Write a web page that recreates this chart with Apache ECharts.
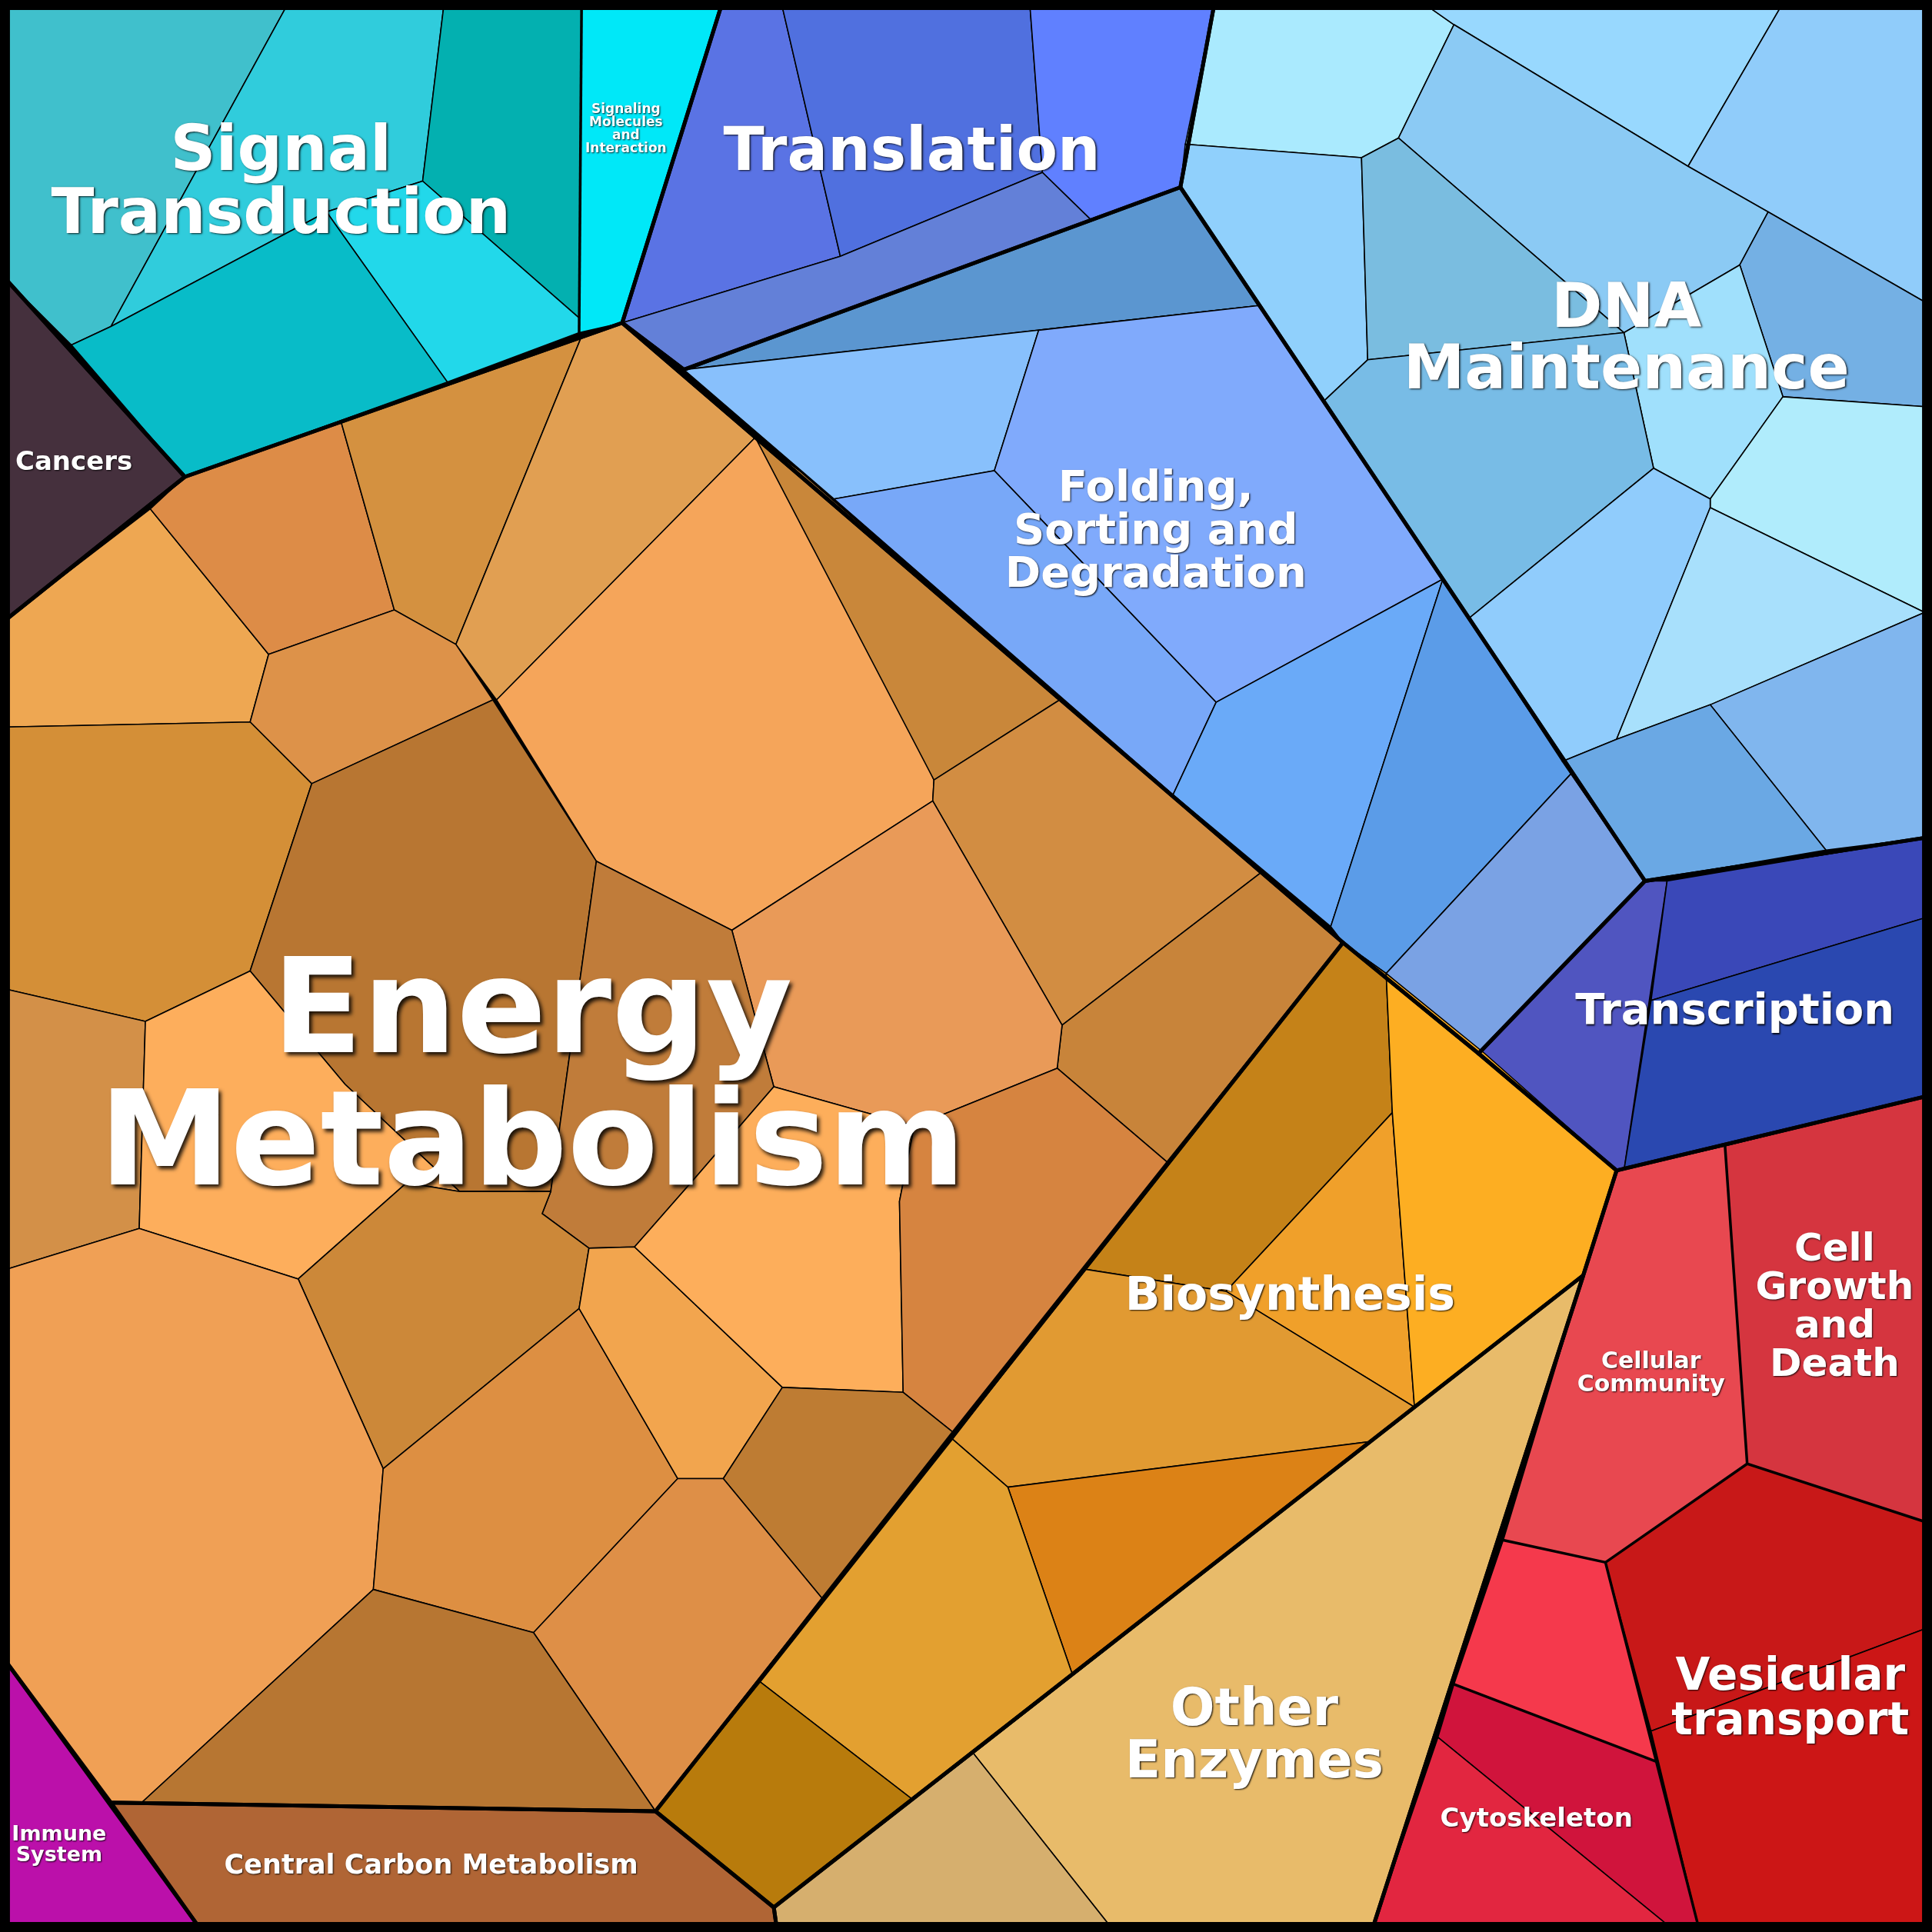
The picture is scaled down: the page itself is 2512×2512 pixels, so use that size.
<!DOCTYPE html>
<html><head><meta charset="utf-8">
<script src="https://cdn.jsdelivr.net/npm/echarts@6/dist/echarts.min.js"></script>
<style>html,body{margin:0;padding:0;background:#000}#c{width:2512px;height:2512px}</style>
</head><body><div id="c"></div>
<script>
// Voronoi treemap cells: [group, color, polygon vertices in chart units (0..1568)]
const cells = [
 ['Energy','#eea752',[[6,502],[122,413],[218,531],[203,586],[6,590]]],
 ['Energy','#dd8c47',[[122,413],[150,387],[277,343],[320,495],[218,531]]],
 ['Energy','#d49140',[[277,343],[472,273],[370,523],[320,495]]],
 ['Energy','#e19f52',[[472,273],[505,262],[613,355],[403,568],[370,523]]],
 ['Energy','#dd9249',[[218,531],[320,495],[370,523],[400,568],[253,636],[203,586]]],
 ['Energy','#d48f37',[[6,590],[203,586],[253,636],[203,788],[118,829],[6,803]]],
 ['Energy','#f5a55a',[[403,568],[613,355],[650,383],[758,633],[757,650],[594,755],[484,699]]],
 ['Energy','#c9873a',[[613,355],[650,383],[860,568],[758,633]]],
 ['Energy','#d28d42',[[758,633],[860,568],[1025,707],[862,832],[757,650]]],
 ['Energy','#c8843a',[[1025,707],[1090,765],[947,943],[858,867],[862,832]]],
 ['Energy','#e99a58',[[594,755],[757,650],[862,832],[858,867],[742,914],[628,882]]],
 ['Energy','#b87632',[[253,636],[400,568],[484,699],[447,967],[373,967],[280,880],[203,788]]],
 ['Energy','#c07c3a',[[484,699],[594,755],[628,882],[565,955],[515,1012],[478,1013],[440,985],[447,967]]],
 ['Energy','#d39048',[[6,803],[118,829],[113,997],[6,1030]]],
 ['Energy','#fdae5c',[[118,829],[203,788],[280,880],[373,967],[330,960],[242,1038],[113,997]]],
 ['Energy','#cc8839',[[242,1038],[330,960],[373,967],[447,967],[440,985],[478,1013],[470,1062],[311,1192]]],
 ['Energy','#f0a055',[[6,1030],[113,997],[242,1038],[311,1192],[303,1290],[115,1463],[90,1463],[6,1350]]],
 ['Energy','#dd8f42',[[311,1192],[470,1062],[550,1200],[433,1325],[303,1290]]],
 ['Energy','#f2a54e',[[478,1013],[515,1012],[635,1126],[587,1200],[550,1200],[470,1062]]],
 ['Energy','#fdae5b',[[515,1012],[565,955],[628,882],[742,914],[730,975],[733,1130],[635,1126]]],
 ['Energy','#d68440',[[742,914],[858,867],[947,943],[773,1162],[733,1130],[730,975]]],
 ['Energy','#be7c33',[[635,1126],[733,1130],[773,1162],[667,1297],[587,1200]]],
 ['Energy','#de8f47',[[550,1200],[587,1200],[667,1297],[532,1470],[433,1325]]],
 ['Energy','#b77632',[[303,1290],[433,1325],[532,1470],[115,1463]]],
 ['Central','#b06535',[[90,1463],[532,1470],[628,1548],[630,1562],[160,1562]]],
 ['Immune','#bb10aa',[[6,1350],[160,1562],[6,1562]]],
 ['Cancers','#45303d',[[6,228],[150,387],[6,502]]],
 ['Signal','#40c0cc',[[6,6],[232,6],[90,265],[58,280],[6,228]]],
 ['Signal','#30ccdc',[[232,6],[360,6],[343,147],[265,172],[90,265]]],
 ['Signal','#03b0b0',[[360,6],[472,6],[470,258],[343,147]]],
 ['Signal','#22d8ea',[[343,147],[470,258],[470,270],[363,310],[265,172]]],
 ['Signal','#08bcc8',[[58,280],[90,265],[265,172],[363,310],[150,387]]],
 ['SigMol','#00e8f8',[[472,6],[585,6],[505,262],[470,270]]],
 ['Translation','#5a73e4',[[585,6],[635,6],[682,208],[505,262]]],
 ['Translation','#5070df',[[635,6],[836,6],[846,140],[682,208]]],
 ['Translation','#6080ff',[[836,6],[985,6],[958,152],[885,178],[846,140]]],
 ['Translation','#6380d8',[[505,262],[682,208],[846,140],[885,178],[555,300]]],
 ['Folding','#5b96d0',[[555,300],[958,152],[1022,248]]],
 ['Folding','#88c0fc',[[555,300],[1022,248],[843,268],[807,382],[677,405]]],
 ['Folding','#80aafc',[[843,268],[1022,248],[1171,470],[987,570],[807,382]]],
 ['Folding','#78a8f8',[[677,405],[807,382],[987,570],[952,645]]],
 ['Folding','#6aaaf8',[[952,645],[987,570],[1171,470],[1080,752]]],
 ['Folding','#5b9ce8',[[1171,470],[1275,628],[1125,790],[1090,765],[1080,752]]],
 ['Folding','#7aa2e4',[[1275,628],[1335,715],[1200,855],[1125,790]]],
 ['DNA','#aaeafe',[[985,6],[1160,6],[1180,20],[1135,112],[1105,128],[962,117]]],
 ['DNA','#90d0fc',[[962,117],[1105,128],[1110,292],[1075,325],[958,152]]],
 ['DNA','#98d8fe',[[1160,6],[1445,6],[1370,135],[1180,20]]],
 ['DNA','#90ccfa',[[1445,6],[1562,6],[1562,245],[1435,172],[1370,135]]],
 ['DNA','#8bcaf4',[[1180,20],[1370,135],[1435,172],[1412,215],[1318,270],[1135,112]]],
 ['DNA','#7abde0',[[1105,128],[1135,112],[1318,270],[1110,292]]],
 ['DNA','#74b0e4',[[1435,172],[1562,245],[1562,330],[1447,322],[1412,215]]],
 ['DNA','#a0e0fc',[[1412,215],[1447,322],[1388,405],[1342,380],[1318,270]]],
 ['DNA','#78bce6',[[1110,292],[1318,270],[1342,380],[1192,502],[1075,325]]],
 ['DNA','#b0ecfc',[[1447,322],[1562,330],[1562,497],[1388,412],[1388,405]]],
 ['DNA','#90ccfc',[[1342,380],[1388,405],[1388,412],[1312,600],[1268,618],[1192,502]]],
 ['DNA','#a8e0fc',[[1388,412],[1562,497],[1388,572],[1312,600]]],
 ['DNA','#80b6ee',[[1388,572],[1562,497],[1562,680],[1482,690]]],
 ['DNA','#6aa8e4',[[1268,618],[1312,600],[1388,572],[1482,690],[1335,715]]],
 ['Transcription','#5055c0',[[1200,855],[1335,715],[1353,715],[1318,950],[1312,950]]],
 ['Transcription','#3a48b8',[[1353,715],[1562,680],[1562,745],[1340,812]]],
 ['Transcription','#2a48b0',[[1340,812],[1562,745],[1562,890],[1318,950]]],
 ['Biosynthesis','#c58218',[[1090,765],[1125,790],[1130,903],[995,1048],[880,1030]]],
 ['Biosynthesis','#f0a02a',[[1130,903],[1148,1142],[995,1048]]],
 ['Biosynthesis','#fdae22',[[1125,790],[1205,855],[1312,950],[1285,1035],[1148,1142],[1130,903]]],
 ['Biosynthesis','#e19a32',[[880,1030],[995,1048],[1148,1142],[1112,1170],[818,1207],[773,1168]]],
 ['Biosynthesis','#dc8216',[[818,1207],[1112,1170],[870,1358]]],
 ['Biosynthesis','#e3a030',[[773,1168],[818,1207],[870,1358],[740,1460],[617,1365]]],
 ['Biosynthesis','#b87b0c',[[617,1365],[740,1460],[628,1548],[532,1470]]],
 ['Other','#e8bb6a',[[1285,1035],[1115,1562],[900,1562],[790,1423]]],
 ['Other','#d6af6e',[[790,1423],[900,1562],[630,1562],[628,1548]]],
 ['Community','#e84850',[[1312,950],[1400,930],[1418,1188],[1303,1268],[1220,1250],[1285,1035]]],
 ['Growth','#d5353f',[[1400,930],[1562,890],[1562,1235],[1418,1188]]],
 ['Vesicular','#c81818',[[1418,1188],[1562,1235],[1562,1322],[1340,1405],[1303,1268]]],
 ['Vesicular','#cc1616',[[1340,1405],[1562,1322],[1562,1562],[1378,1562]]],
 ['Cyto','#f5394c',[[1220,1250],[1303,1268],[1345,1430],[1180,1367]]],
 ['Cyto','#d0143c',[[1180,1367],[1345,1430],[1378,1562],[1353,1562],[1167,1410]]],
 ['Cyto','#e22640',[[1167,1410],[1353,1562],[1115,1562]]]
];
// Group outlines (thick borders)
const groups = [
 [[6,502],[150,387],[505,262],[1090,765],[532,1470],[90,1463],[6,1350]],
 [[6,228],[150,387],[6,502]],
 [[6,6],[585,6],[505,262],[150,387],[6,228]],
 [[585,6],[985,6],[958,152],[555,300],[505,262]],
 [[505,262],[555,300],[958,152],[1335,715],[1200,855],[1090,765]],
 [[985,6],[1562,6],[1562,680],[1335,715],[958,152]],
 [[1200,855],[1335,715],[1562,680],[1562,890],[1312,950]],
 [[1090,765],[1200,855],[1312,950],[1285,1035],[628,1548],[532,1470]],
 [[1285,1035],[1115,1562],[630,1562],[628,1548]],
 [[1312,950],[1562,890],[1562,1562],[1115,1562],[1285,1035]],
 [[6,1350],[160,1562],[6,1562]],
 [[90,1463],[532,1470],[628,1548],[630,1562],[160,1562]]
];
const subBorders = [
 [[1400,930],[1418,1188],[1562,1235]],
 [[1418,1188],[1303,1268],[1378,1562]],
 [[1303,1268],[1220,1250]],
 [[1180,1367],[1345,1430]],
 [[472,6],[470,270]]
];
const labels = ['Signal\nTransduction','Signaling\nMolecules\nand\nInteraction','Translation','Cancers','DNA\nMaintenance','Folding,\nSorting and\nDegradation','Energy\nMetabolism','Transcription','Biosynthesis','Cellular\nCommunity','Cell\nGrowth\nand\nDeath','Other\nEnzymes','Vesicular\ntransport','Cytoskeleton','Immune\nSystem','Central Carbon Metabolism'];
const labelPos = [[228,150],[508,105],[740,125],[60,376],[1320,277],[938,432],[432,880],[1408,822],[1047,1053],[1340,1115],[1489,1062],[1018,1410],[1453,1380],[1247,1477],[48,1498],[350,1515]];
const labelSize = [82,17,78,34,80,56,172,56,60,30,50,68,58,34,27,35];

const chart = echarts.init(document.getElementById('c'));
function polyItem(pts, api){ return pts.map(p=>api.coord(p)); }
chart.setOption({
 backgroundColor:'#000',
 animation:false,
 grid:{left:0,right:0,top:0,bottom:0},
 xAxis:{type:'value',min:0,max:1568,show:false},
 yAxis:{type:'value',min:0,max:1568,inverse:true,show:false},
 series:[
  {type:'custom',data:cells.map((c,i)=>[i]),renderItem:(p,api)=>{
    const c=cells[p.dataIndex];
    return {type:'polygon',shape:{points:polyItem(c[2],api)},style:{fill:c[1],stroke:'#000',lineWidth:1.6}};
  }},
  {type:'custom',data:subBorders.map((c,i)=>[i]),renderItem:(p,api)=>({type:'polyline',shape:{points:polyItem(subBorders[p.dataIndex],api)},style:{fill:null,stroke:'#000',lineWidth:3.5}})},
  {type:'custom',data:groups.map((c,i)=>[i]),renderItem:(p,api)=>({type:'polygon',shape:{points:polyItem(groups[p.dataIndex],api)},style:{fill:null,stroke:'#000',lineWidth:5,lineJoin:'round'}})},
  {type:'custom',data:[[0]],renderItem:(p,api)=>({type:'polygon',shape:{points:polyItem([[4,4],[1564,4],[1564,1564],[4,1564]],api)},style:{fill:null,stroke:'#000',lineWidth:13}})},
  {type:'custom',data:labels.map((l,i)=>[i]),renderItem:(p,api)=>{
    const i=p.dataIndex, pt=api.coord(labelPos[i]), s=labelSize[i];
    return {type:'text',x:pt[0],y:pt[1],style:{text:labels[i],fill:'#fff',font:'bold '+s+'px "DejaVu Sans"',align:'center',verticalAlign:'middle',lineHeight:s*1.0,textShadowColor:'rgba(0,0,0,0.85)',textShadowBlur:Math.max(2,s*0.03),textShadowOffsetX:Math.max(1,s*0.02),textShadowOffsetY:Math.max(1,s*0.02)}};
  }}
 ]
});
</script></body></html>
